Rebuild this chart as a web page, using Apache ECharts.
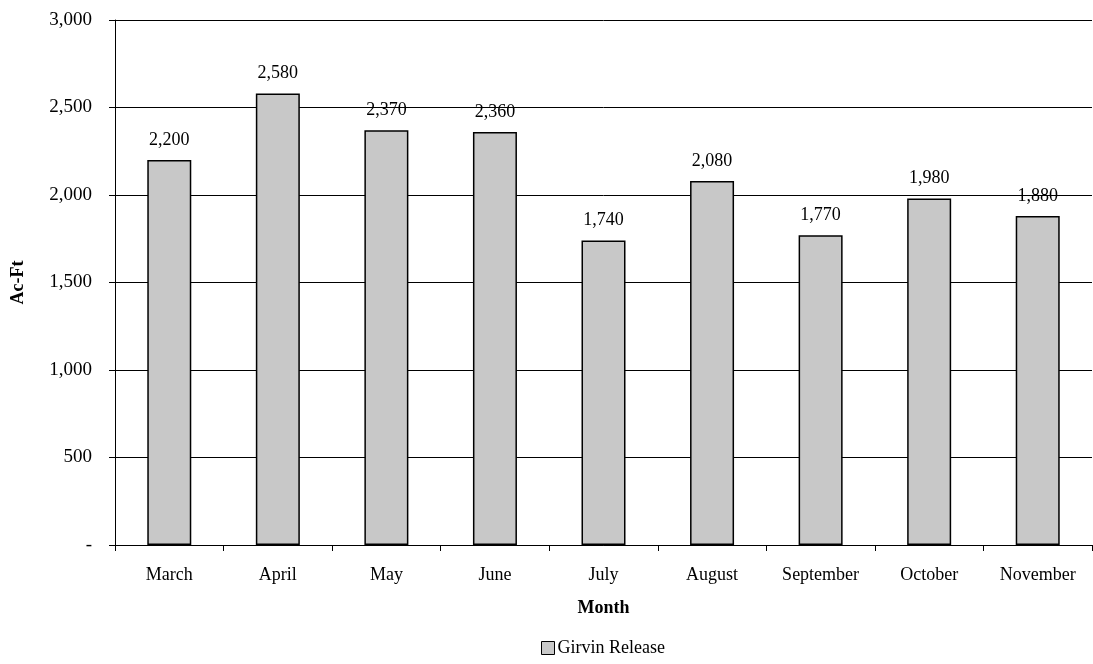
<!DOCTYPE html>
<html><head><meta charset="utf-8">
<script src="https://cdn.jsdelivr.net/npm/echarts@6/dist/echarts.min.js"></script>
<style>html,body{margin:0;padding:0;background:#fff}#c{width:1093px;height:664px}</style>
</head><body><div id="c"></div>
<script>
const categories = ['March','April','May','June','July','August','September','October','November'];
const releaseValues = [2200,2580,2370,2360,1740,2080,1770,1980,1880];
const seriesName = 'Girvin Release';
const yTicks = [0,500,1000,1500,2000,2500,3000];

function fmt(v){ return v === 0 ? '-' : String(v).replace(/\B(?=(\d{3})+(?!\d))/g, ','); }
const FONT = 'Liberation Serif';
const FS = 18;
const chart = echarts.init(document.getElementById('c'), null, {renderer:'canvas'});
chart.setOption({
  animation: false,
  textStyle: {fontFamily: FONT, color: '#000'},
  grid: {left: 115, right: 1, top: 20, bottom: 119, containLabel: false},
  legend: {
    bottom: 2, left: 536, itemWidth: 13, itemHeight: 13, itemGap: 10,
    icon: 'rect',
    textStyle: {fontFamily: FONT, fontSize: FS, color: '#000', padding: [0,0,0,-2]},
    data: [{name: seriesName, itemStyle: {color: '#c8c8c8', borderColor: '#000', borderWidth: 1}}]
  },
  xAxis: {
    type: 'category', data: categories,
    name: 'Month', nameLocation: 'middle', nameGap: 54,
    nameTextStyle: {fontFamily: FONT, fontSize: FS, fontWeight: 'bold', color: '#000'},
    axisLine: {lineStyle: {color: '#000', width: 1}},
    axisTick: {show: true, alignWithLabel: false, length: 6, lineStyle: {color: '#000'}},
    axisLabel: {fontFamily: FONT, fontSize: FS, color: '#000', margin: 21}
  },
  yAxis: {
    type: 'value', min: 0, max: 3000, interval: 500,
    name: 'Ac-Ft', nameLocation: 'middle', nameGap: 88, nameRotate: 90,
    nameTextStyle: {fontFamily: FONT, fontSize: FS, fontWeight: 'bold', color: '#000'},
    axisLine: {show: true, lineStyle: {color: '#000', width: 1}},
    axisTick: {show: true, length: 6, lineStyle: {color: '#000'}},
    splitLine: {show: true, lineStyle: {color: '#000', width: 1}},
    axisLabel: {fontFamily: FONT, fontSize: 19, color: '#000', margin: 23, formatter: fmt}
  },
  series: [{
    name: seriesName, type: 'bar', data: releaseValues, barWidth: 44,
    itemStyle: {color: '#c8c8c8', borderColor: '#000', borderWidth: 1.5},
    label: {show: true, position: 'top', distance: 11, fontFamily: FONT, fontSize: FS, color: '#000', formatter: p => fmt(p.value)}
  }]
});
</script></body></html>
